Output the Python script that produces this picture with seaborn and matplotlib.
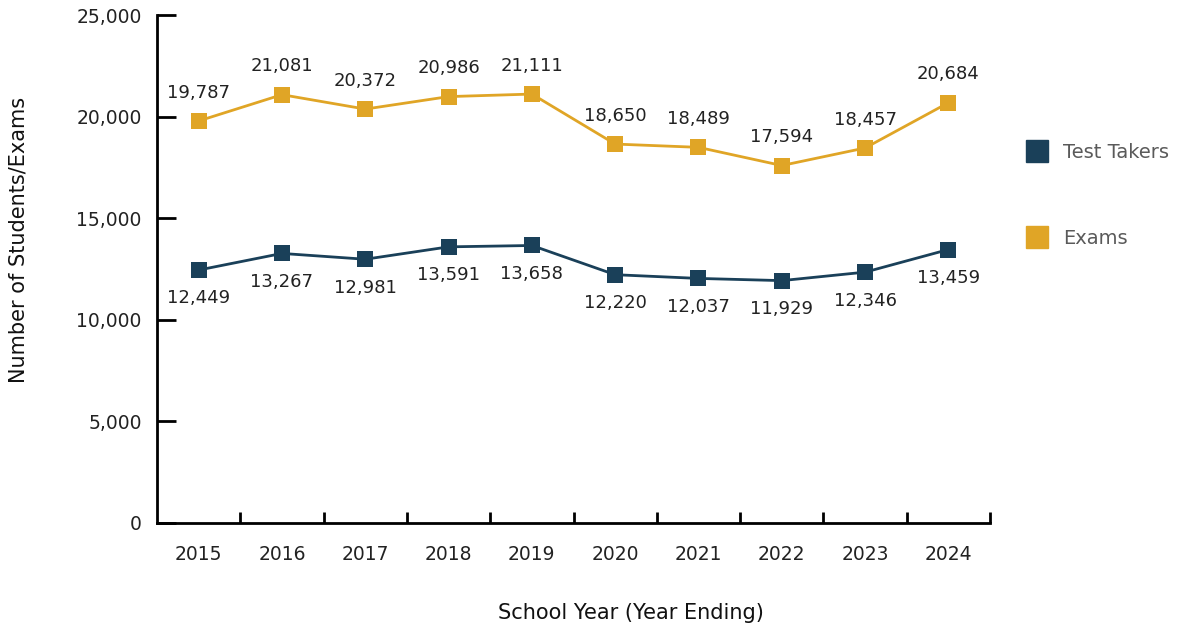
import matplotlib
matplotlib.use("Agg")
import matplotlib.pyplot as plt
from matplotlib.lines import Line2D
import pandas as pd
import seaborn as sns

years = ["2015", "2016", "2017", "2018", "2019", "2020", "2021", "2022", "2023", "2024"]
test_takers = [12449, 13267, 12981, 13591, 13658, 12220, 12037, 11929, 12346, 13459]
exams = [19787, 21081, 20372, 20986, 21111, 18650, 18489, 17594, 18457, 20684]

NAVY = "#1a4059"
GOLD = "#e0a526"

df = pd.DataFrame({
    "pos": list(range(len(years))) * 2,
    "value": test_takers + exams,
    "series": ["Test Takers"] * len(years) + ["Exams"] * len(years),
})

sns.set_style("white")
plt.rcParams["font.family"] = ["DejaVu Sans"]

fig = plt.figure(figsize=(11.83, 6.27), dpi=100)
ax = fig.add_axes([0.1327, 0.1659, 0.7042, 0.8101])

sns.lineplot(data=df, x="pos", y="value", hue="series",
             palette={"Test Takers": NAVY, "Exams": GOLD},
             marker="s", markersize=11, markeredgewidth=0,
             linewidth=2, legend=False, ax=ax)

# data labels
for i, v in enumerate(exams):
    ax.annotate(f"{v:,}", (i, v), xytext=(0, 14), textcoords="offset points",
                ha="center", va="bottom", fontsize=13, color="#222222")
for i, v in enumerate(test_takers):
    ax.annotate(f"{v:,}", (i, v), xytext=(0, -14), textcoords="offset points",
                ha="center", va="top", fontsize=13, color="#222222")

ax.set_xlim(-0.5, len(years) - 0.5)
ax.set_ylim(0, 25000)
ax.set_yticks(range(0, 25001, 5000))
ax.set_yticklabels([f"{t:,}" for t in range(0, 25001, 5000)], fontsize=13.5, color="#222222")
ax.set_xticks(range(len(years)))
ax.set_xticklabels(years, fontsize=13.5, color="#222222")
ax.set_xticks([i + 0.5 for i in range(len(years))], minor=True)

ax.tick_params(axis="y", direction="in", length=14, width=2, pad=11, left=True, color="black")
ax.tick_params(axis="x", which="major", length=0, pad=16)
ax.tick_params(axis="x", which="minor", direction="in", length=8, width=2, bottom=True, color="black")

for side in ["top", "right"]:
    ax.spines[side].set_visible(False)
for side in ["left", "bottom"]:
    ax.spines[side].set_color("black")
    ax.spines[side].set_linewidth(2)

ax.set_xlabel("")
ax.set_ylabel("")
fig.text(0.533, 0.023, "School Year (Year Ending)", ha="center", va="center",
         fontsize=15, color="#111111")
fig.text(0.016, 0.617, "Number of Students/Exams", ha="center", va="center",
         rotation=90, fontsize=15, color="#111111")

handles = [
    Line2D([], [], linestyle="none", marker="s", markersize=16.5, color=NAVY, label="Test Takers"),
    Line2D([], [], linestyle="none", marker="s", markersize=16.5, color=GOLD, label="Exams"),
]
fig.legend(handles=handles, loc="upper left", bbox_to_anchor=(0.845, 0.8),
           frameon=False, labelspacing=3.45, handletextpad=0.35, fontsize=14,
           labelcolor="#5a5a5a")

plt.savefig("out.png", dpi=100)
